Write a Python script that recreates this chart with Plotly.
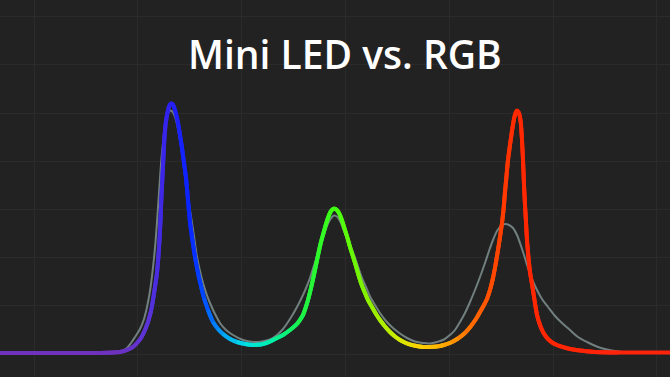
import plotly.graph_objects as go
from plotly.colors import sample_colorscale

# Wavelength (nm) and relative intensity (a.u.)
rgb_nm = [370, 400, 420, 426.5, 430, 433.5, 436.5, 438.5, 440.5, 442.5, 444, 445.5, 446.5, 447.5,
          448.5, 449.25, 449.75, 450.25, 450.65, 451.15, 451.65, 452.15, 452.75, 453.5, 454.5, 455.5,
          456.25, 457, 458, 459, 460, 461, 462, 463, 464, 465, 466, 467.5, 469, 470.5, 472, 474,
          476.5, 479, 481.5, 485, 488.5, 492.5, 496.5, 500.5, 504, 507.5, 511.5, 515, 518.5, 521.5,
          524, 525.5, 526.75, 528, 529.25, 530.5, 531.75, 533, 534.25, 535.5, 537, 538.5, 540,
          541.25, 542.5, 543.75, 545, 546.25, 547.5, 548.75, 550, 551.25, 552.5, 554, 556, 558, 560,
          562.5, 565, 567.5, 570, 573.5, 577, 581.5, 585, 588.5, 592, 595.5, 599, 602.5, 605.5, 608,
          610, 612, 613.5, 615, 616.5, 617.75, 619, 620, 621, 621.75, 622.5, 623.25, 624, 625, 626,
          627, 627.75, 628.5, 629.25, 630, 630.5, 631, 631.5, 632, 632.5, 633, 633.5, 634.25, 635,
          636, 637.25, 638.5, 640, 641.5, 643.5, 646, 649, 654, 660, 667.5, 679, 705]
rgb_val = [1, 1, 1, 1.5, 2, 4, 7, 11, 16, 24, 32, 43, 54, 67,
           81, 99, 114, 134, 154, 174, 194, 214, 229, 239, 247.5, 250.5,
           250, 247, 240, 231, 219, 206, 191, 176, 154, 132, 117, 97, 81, 68, 56, 44,
           32, 25, 20, 15, 12, 10, 9, 9.5, 11.5, 15, 19, 24, 30, 39,
           54, 66, 77, 89, 101, 112, 121, 130, 137.5, 143, 145.5, 144, 139,
           132, 124, 116, 107, 99, 91, 82.5, 74, 67, 61, 54, 47, 40, 34,
           27.5, 22, 17.5, 14, 10.5, 8.5, 7, 7, 7.5, 9, 11.5, 15.5, 21, 28, 35,
           42, 49, 55, 64, 76, 89, 104, 117, 131, 144, 162, 178, 194, 209, 223,
           235, 241, 243.5, 242, 237, 229, 214, 194, 169, 149, 132, 114, 96, 82,
           70, 54, 39, 29, 22, 16, 11.5, 8.5, 5.5, 3.5, 2, 1.5, 1.5]

mini_nm = [370, 420, 427.5, 431, 433.5, 435.5, 437.5, 440, 442, 443.5, 445, 446, 447, 447.75,
           448.5, 449.25, 450, 450.75, 451.5, 452.5, 453.5, 454.5, 455.5, 456.5, 457.5, 458.5,
           459.5, 460.5, 461.5, 462.5, 463.5, 464.75, 466, 467.25, 468.5, 470, 471.5, 473.25, 475,
           477.5, 480, 483, 486.5, 491.5, 496.5, 501, 505, 508.5, 511.5, 515, 518.5, 521.5, 523.25,
           525, 526.75, 528.5, 530, 531.75, 533.5, 535.25, 537, 538.75, 540.25, 541.75, 543.5,
           545.25, 546.75, 548.75, 550.75, 553, 555, 557.5, 560, 563, 566.5, 570, 573.5, 577.5,
           581.5, 585, 588.5, 592, 595, 597.5, 600, 602.5, 605, 607.5, 610, 612.5, 614.5, 616.5,
           618.5, 620.5, 622.5, 624.5, 626.5, 628.5, 630, 632, 634, 636, 638.5, 641, 644, 647.5,
           651, 655, 659, 664, 669, 673.5, 677.5, 682.5, 687.5, 705]
mini_val = [1, 1, 1.5, 3, 6, 11, 17, 25, 35, 47, 63, 78, 96, 112,
            132, 154, 176, 196, 211, 226, 237, 242.5, 243.5, 241.5, 237, 230,
            220, 208, 194, 179, 164, 147, 131, 114, 97, 83, 71, 60, 51,
            40, 31, 24, 19, 14, 12, 12.5, 14.5, 19, 25, 35, 47, 59, 67,
            76, 87, 98, 108, 118, 128, 135, 138.5, 137, 132, 124, 115.5,
            107.5, 100.5, 89, 77.5, 67, 57.5, 49, 41, 33, 26, 20.5, 16, 12.5,
            11, 10.5, 12, 14.5, 19, 24, 32, 41, 52, 64, 77, 91, 103, 114,
            123, 128, 130, 129, 126, 119, 111, 99, 86, 75, 64, 55, 47, 38,
            31, 24, 17, 11.5, 7, 4.5, 3, 1.7, 1.3, 1]

title_text = "Mini LED vs. RGB"

# style: spectral colour ramp along wavelength
NM_MIN, NM_MAX = 370, 705
spectrum_stops = [
    (370, "#6e32be"), (430, "#6e32be"), (445, "#5a34d6"), (455.5, "#2a20f2"),
    (465, "#0a24ff"), (472.5, "#0048ff"), (482.5, "#00a0f2"), (495, "#00e2e4"),
    (507.5, "#00f0a8"), (520, "#18f050"), (537.5, "#40ff10"), (555, "#8cf000"),
    (570, "#d0ec00"), (582.5, "#ffd000"), (595, "#ffa400"), (605, "#ff7400"),
    (617.5, "#ff4800"), (628.5, "#ff2800"), (705, "#ff2010"),
]
cscale = [[(w - NM_MIN) / (NM_MAX - NM_MIN), c] for w, c in spectrum_stops]

fig = go.Figure()

fig.add_trace(go.Scatter(
    x=mini_nm, y=mini_val, mode="lines",
    line=dict(color="#71807f", width=2, shape="spline", smoothing=1),
    hoverinfo="skip", showlegend=False,
))

n = len(rgb_nm)
for k in range(n - 2):
    mid = rgb_nm[k + 1]
    col = sample_colorscale(cscale, [(mid - NM_MIN) / (NM_MAX - NM_MIN)])[0]
    fig.add_trace(go.Scatter(
        x=rgb_nm[k:k + 3], y=rgb_val[k:k + 3], mode="lines",
        line=dict(color=col, width=4, shape="spline", smoothing=1),
        hoverinfo="skip", showlegend=False,
    ))

fig.add_annotation(
    text=title_text, xref="paper", yref="paper", x=0.515, y=0.857,
    xanchor="center", yanchor="middle", showarrow=False,
    font=dict(family="Open Sans", size=39, color="#ffffff", weight=600),
)

grid = "#2b2b2b"
fig.update_layout(
    width=670, height=377, margin=dict(l=0, r=0, t=0, b=0),
    paper_bgcolor="#222222", plot_bgcolor="#222222",
    xaxis=dict(range=[NM_MIN, NM_MAX], tick0=387, dtick=51.9, showgrid=True, gridcolor=grid,
               gridwidth=1, zeroline=False, showticklabels=False, showline=False, ticks=""),
    yaxis=dict(range=[-23, 354], tick0=0, dtick=48.2, showgrid=True, gridcolor=grid,
               gridwidth=1, zeroline=False, showticklabels=False, showline=False, ticks=""),
    hovermode=False,
)

fig.write_html("out.html", config={"displayModeBar": False})
